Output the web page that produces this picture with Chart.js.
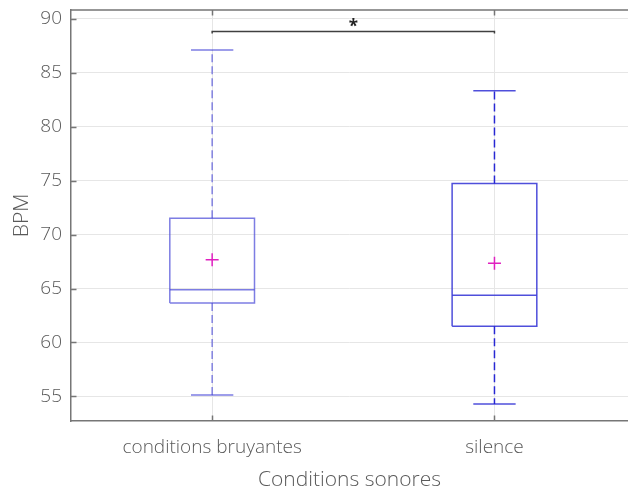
<!DOCTYPE html>
<html>
<head>
<meta charset="utf-8">
<script src="https://cdn.jsdelivr.net/npm/chart.js@4"></script>
<style>
    html, body { margin: 0; padding: 0; background: #fff; overflow: hidden; }
    #bpm-chart { display: block; }
</style>
</head>
<body>
<canvas id="bpm-chart" width="628" height="493"></canvas>
<script>
// ── Data ──────────────────────────────────────────────────────────────────
const categories  = ['conditions bruyantes', 'silence'];
const whiskerLow  = [55.12, 54.29];
const q1          = [63.66, 61.51];
const medians     = [64.90, 64.38];
const q3          = [71.53, 74.74];
const whiskerHigh = [87.13, 83.34];
const means       = [67.68, 67.34];
const yTicks      = [55, 60, 65, 70, 75, 80, 85, 90];

// significance bracket between the two groups
const sigPair   = [1, 2];
const sigLevel  = 88.83;
const sigLabel  = '*';

// ── Style ─────────────────────────────────────────────────────────────────
const FONT      = "'Open Sans', 'Noto Sans', sans-serif";
const TEXT      = '#5a5a5a';
const AXIS      = '#767676';
const GRID      = '#e6e6e6';
const boxColors = ['rgba(70, 70, 215, 0.70)', 'rgba(60, 60, 215, 0.90)'];
const whiskColors = ['rgba(70, 70, 215, 0.65)', 'rgba(30, 30, 210, 0.95)'];
const MEAN      = '#e020c0';
const BOX_HALF  = 0.15;
const CAP_HALF  = 0.075;

function line(points, color, dash) {
    return {
        type: 'scatter',
        data: points,
        showLine: true,
        borderColor: color,
        borderWidth: 1.5,
        borderDash: dash || [],
        pointRadius: 0,
        pointHoverRadius: 0,
        fill: false,
        tension: 0,
    };
}

// no automatic label overflow padding: the frame fills the canvas
function noPad(axis) {
    axis.paddingTop = axis.paddingBottom = axis.paddingLeft = axis.paddingRight = 0;
}

// build box-plot pieces for every category
const datasets = [];
categories.forEach((_, i) => {
    const x = i + 1;
    const c = boxColors[i];
    const w = whiskColors[i];
    datasets.push(line([{ x, y: q3[i] }, { x, y: whiskerHigh[i] }], w, [8, 4]));
    datasets.push(line([{ x, y: q1[i] }, { x, y: whiskerLow[i] }], w, [8, 4]));
    datasets.push(line([{ x: x - CAP_HALF, y: whiskerHigh[i] }, { x: x + CAP_HALF, y: whiskerHigh[i] }], c));
    datasets.push(line([{ x: x - CAP_HALF, y: whiskerLow[i] }, { x: x + CAP_HALF, y: whiskerLow[i] }], c));
    datasets.push(line([
        { x: x - BOX_HALF, y: q1[i] }, { x: x + BOX_HALF, y: q1[i] },
        { x: x + BOX_HALF, y: q3[i] }, { x: x - BOX_HALF, y: q3[i] },
        { x: x - BOX_HALF, y: q1[i] },
    ], c));
    datasets.push(line([{ x: x - BOX_HALF, y: medians[i] }, { x: x + BOX_HALF, y: medians[i] }], c));
});

datasets.push({
    type: 'scatter',
    data: means.map((m, i) => ({ x: i + 1, y: m })),
    pointStyle: 'cross',
    pointRadius: 6.5,
    pointBorderWidth: 1.5,
    pointBorderColor: MEAN,
    pointBackgroundColor: MEAN,
});

datasets.push(line([
    { x: sigPair[0], y: sigLevel - 0.18 }, { x: sigPair[0], y: sigLevel },
    { x: sigPair[1], y: sigLevel },        { x: sigPair[1], y: sigLevel - 0.18 },
], '#404040'));

// ── Frame decorations: top border, inward ticks, star ─────────────────────
const framePlugin = {
    id: 'frame',
    afterDatasetsDraw(chart) {
        const { ctx, chartArea: a, scales: { x, y } } = chart;
        ctx.save();
        ctx.strokeStyle = AXIS;
        ctx.lineWidth = 1.5;
        ctx.beginPath();
        ctx.moveTo(a.left, a.top);
        ctx.lineTo(a.right, a.top);
        yTicks.forEach(v => {
            const py = Math.round(y.getPixelForValue(v)) + 0.5;
            ctx.moveTo(a.left, py);
            ctx.lineTo(a.left + 5.5, py);
        });
        categories.forEach((_, i) => {
            const px = Math.round(x.getPixelForValue(i + 1)) + 0.5;
            ctx.moveTo(px, a.top);
            ctx.lineTo(px, a.top + 5.5);
            ctx.moveTo(px, a.bottom);
            ctx.lineTo(px, a.bottom - 5.5);
        });
        ctx.stroke();

        ctx.fillStyle = '#222';
        ctx.font = `bold 17px ${FONT}`;
        ctx.textAlign = 'center';
        ctx.textBaseline = 'middle';
        const sx = x.getPixelForValue((sigPair[0] + sigPair[1]) / 2);
        ctx.fillText(sigLabel, sx, y.getPixelForValue(sigLevel) - 4);
        ctx.restore();
    },
};

new Chart(document.getElementById('bpm-chart'), {
    type: 'scatter',
    data: { datasets },
    options: {
        responsive: false,
        animation: false,
        layout: { autoPadding: false, padding: { top: 10, right: 0, left: 0, bottom: 0 } },
        plugins: {
            legend:  { display: false },
            tooltip: { enabled: false },
        },
        scales: {
            x: {
                type: 'linear',
                min: 0.5,
                max: 2.473,
                afterBuildTicks: axis => { axis.ticks = categories.map((_, i) => ({ value: i + 1 })); },
                afterFit: axis => { axis.height = 72; noPad(axis); },
                ticks: {
                    color: TEXT,
                    font: { family: FONT, size: 19, weight: 300 },
                    padding: 15,
                    maxRotation: 0,
                    autoSkip: false,
                    callback: v => categories[v - 1],
                },
                grid:   { color: GRID, lineWidth: 1, drawTicks: false },
                border: { color: AXIS, width: 1.5 },
                title: {
                    display: true,
                    text: 'Conditions sonores',
                    color: TEXT,
                    font: { family: FONT, size: 21, weight: 300 },
                    padding: { top: 2, bottom: 0 },
                },
            },
            y: {
                type: 'linear',
                min: 52.72,
                max: 90.83,
                afterBuildTicks: axis => { axis.ticks = yTicks.map(v => ({ value: v })); },
                afterFit: axis => { axis.width = 71; noPad(axis); },
                ticks: {
                    color: TEXT,
                    font: { family: FONT, size: 19, weight: 300 },
                    padding: 9,
                },
                grid:   { color: GRID, lineWidth: 1, drawTicks: false },
                border: { color: AXIS, width: 1.5 },
                title: {
                    display: true,
                    text: 'BPM',
                    color: TEXT,
                    font: { family: FONT, size: 21, weight: 300 },
                    padding: { top: 9, bottom: 4 },
                },
            },
        },
    },
    plugins: [framePlugin],
});
</script>
</body>
</html>
